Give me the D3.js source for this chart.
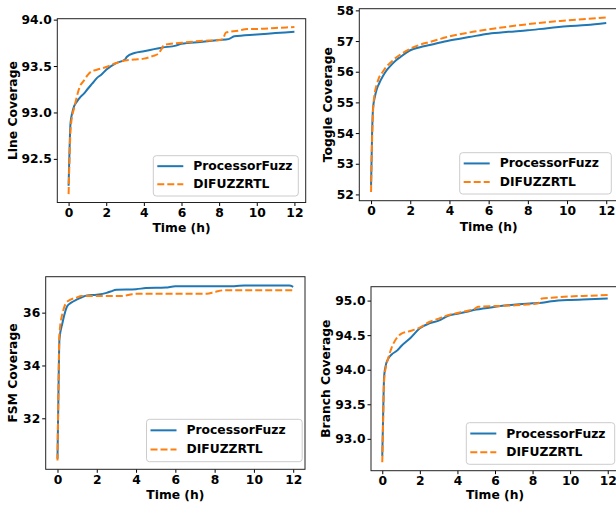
<!DOCTYPE html>
<html><head><meta charset="utf-8">
<script src="https://cdn.jsdelivr.net/npm/d3@7"></script>
<style>body{margin:0;background:#fff}svg{display:block}text{font-family:"DejaVu Sans",sans-serif;font-weight:bold;fill:#000}</style>
</head><body>
<svg id="c" width="616" height="506"></svg>
<script>
const seriesNames = ["ProcessorFuzz", "DIFUZZRTL"];
const xTicks = [0, 2, 4, 6, 8, 10, 12];

// Line coverage
const lineT_PF = [0,0.05,0.1,0.2,0.3,0.45,0.6,0.8,1,1.25,1.5,1.75,2,2.5,3,3.1,3.5,4,5,5.7,6,7,8,8.5,8.8,10,11,12];
const lineV_PF = [92.21,92.6,92.88,93.0,93.07,93.12,93.16,93.2,93.25,93.31,93.37,93.41,93.46,93.53,93.57,93.6,93.64,93.66,93.7,93.72,93.74,93.76,93.78,93.79,93.82,93.84,93.855,93.87];
const lineT_DF = [0,0.05,0.1,0.2,0.3,0.45,0.6,0.8,1,1.2,1.5,2,2.5,3,3.5,4,4.5,4.75,4.9,5.1,6,7,8,8.2,8.35,9,9.5,10,11,12];
const lineV_DF = [92.12,92.5,92.8,92.97,93.05,93.18,93.28,93.34,93.4,93.44,93.46,93.49,93.53,93.56,93.57,93.58,93.61,93.63,93.67,93.73,93.75,93.77,93.78,93.79,93.86,93.88,93.9,93.9,93.91,93.92];
const lineYTicks = [92.5, 93.0, 93.5, 94.0];

// Toggle coverage
const togT = [0,0.05,0.1,0.2,0.3,0.4,0.6,0.8,1,1.25,1.5,2,2.5,3,4,5,6,7,8,9,10,11,12];
const togV_PF = [52.3,53.9,54.8,55.2,55.45,55.6,55.85,56.05,56.2,56.36,56.48,56.7,56.8,56.87,57.02,57.13,57.24,57.3,57.35,57.42,57.48,57.52,57.59];
const togV_DF = [52.08,53.7,54.7,55.35,55.6,55.8,56.0,56.18,56.3,56.45,56.56,56.75,56.88,56.97,57.15,57.28,57.38,57.47,57.55,57.62,57.67,57.72,57.77];
const togYTicks = [52, 53, 54, 55, 56, 57, 58];

// FSM coverage
const fsmT_PF = [0,0.05,0.1,0.25,0.5,0.7,1,1.5,2,2.5,2.7,3,4,4.5,5.5,6,9,9.5,11.8,12];
const fsmV_PF = [30.47,33.0,35.0,35.6,36.25,36.38,36.5,36.65,36.68,36.75,36.8,36.87,36.89,36.93,36.95,37.0,37.0,37.03,37.03,36.98];
const fsmT_DF = [0,0.05,0.1,0.3,0.5,1,1.2,2,3.3,3.8,4,7.6,8,8.5,12];
const fsmV_DF = [30.4,33.2,35.2,36.1,36.42,36.58,36.63,36.63,36.63,36.7,36.72,36.72,36.78,36.85,36.85];
const fsmYTicks = [32, 34, 36];

// Branch coverage
const brT_PF = [0,0.05,0.1,0.2,0.3,0.5,0.8,1,1.5,2,2.5,3,3.5,4,4.5,5,6,7,8,8.5,9,10,11,12];
const brV_PF = [92.75,93.4,93.91,94.08,94.15,94.22,94.28,94.34,94.46,94.6,94.67,94.71,94.78,94.81,94.84,94.87,94.91,94.94,94.96,94.97,94.99,95.01,95.02,95.03];
const brT_DF = [0,0.05,0.1,0.2,0.3,0.5,0.7,1,1.5,2,2.5,3,3.5,4,4.5,4.9,5.1,6,7,8,8.3,8.5,9,10,11,12];
const brV_DF = [92.66,93.3,93.85,94.05,94.15,94.32,94.43,94.52,94.56,94.61,94.69,94.74,94.79,94.82,94.85,94.88,94.91,94.92,94.93,94.95,94.96,95.03,95.04,95.06,95.07,95.08];
const brYTicks = [93.0, 93.5, 94.0, 94.5, 95.0];

const colors = ["#1f77b4", "#ff7f0e"];
const FS = 12.3;

const panels = [
  {label:"Line Coverage", box:{l:57.3,t:18.7,r:305.7,b:202.5}, ylx:13.3, xly:227.7,
   s:[[lineT_PF,lineV_PF],[lineT_DF,lineV_DF]], yt:lineYTicks, fmt:".1f", leg:{x:153.3,y:155.7,w:145,h:40.3}},
  {label:"Toggle Coverage", box:{l:359.3,t:8.7,r:618,b:200.7}, ylx:328, xly:226.7,
   s:[[togT,togV_PF],[togT,togV_DF]], yt:togYTicks, fmt:"d", leg:{x:459.7,y:152.7,w:151.6,h:41.3}},
  {label:"FSM Coverage", box:{l:45.7,t:276.7,r:305,b:469.3}, ylx:13.3, xly:494.5,
   s:[[fsmT_PF,fsmV_PF],[fsmT_DF,fsmV_DF]], yt:fsmYTicks, fmt:"d", leg:{x:146.5,y:419.3,w:155.7,h:42.4}},
  {label:"Branch Coverage", box:{l:371,t:286.7,r:619,b:470.7}, ylx:326.3, xly:495,
   s:[[brT_PF,brV_PF],[brT_DF,brV_DF]], yt:brYTicks, fmt:".1f", leg:{x:466.3,y:422.7,w:148.4,h:41.6}}
];

const svg = d3.select("#c");

panels.forEach((p, pi) => {
  const B = p.box;
  const x = d3.scaleLinear().domain([-0.6, 12.6]).range([B.l, B.r]);
  const allV = p.s.flatMap(s => s[1]);
  const [mn, mx] = d3.extent(allV);
  const pad = (mx - mn) * 0.05;
  const y = d3.scaleLinear().domain([mn - pad, mx + pad]).range([B.b, B.t]);
  const g = svg.append("g");
  const clipId = "clip" + pi;
  g.append("clipPath").attr("id", clipId).append("rect")
    .attr("x", B.l).attr("y", B.t).attr("width", B.r - B.l).attr("height", B.b - B.t);

  const line = d3.line().x(d => x(d[0])).y(d => y(d[1])).curve(d3.curveMonotoneX);
  p.s.forEach((s, i) => {
    const pts = s[0].map((t, k) => [t, s[1][k]]);
    g.append("path").attr("d", line(pts)).attr("fill", "none")
      .attr("stroke", colors[i]).attr("stroke-width", 2)
      .attr("stroke-dasharray", i === 1 ? "7,3" : null)
      .attr("clip-path", `url(#${clipId})`);
  });

  const xa = g.append("g").attr("transform", `translate(0,${B.b})`)
    .call(d3.axisBottom(x).tickValues(xTicks).tickSize(3.5).tickPadding(3).tickFormat(d3.format("d")));
  const ya = g.append("g").attr("transform", `translate(${B.l},0)`)
    .call(d3.axisLeft(y).tickValues(p.yt).tickSize(3.5).tickPadding(2).tickFormat(d3.format(p.fmt)));
  [xa, ya].forEach(a => {
    a.select(".domain").remove();
    a.selectAll("line").attr("stroke", "#000").attr("stroke-width", 1);
    a.selectAll("text").attr("font-size", FS).attr("font-family", "DejaVu Sans").attr("font-weight", "bold").attr("fill", "#000");
  });
  xa.selectAll("text").attr("dy", null).attr("y", 10.5).attr("dominant-baseline", "central");
  ya.selectAll("text").attr("dy", null).attr("dominant-baseline", "central");

  g.append("rect").attr("x", B.l).attr("y", B.t).attr("width", B.r - B.l).attr("height", B.b - B.t)
    .attr("fill", "none").attr("stroke", "#222").attr("stroke-width", 1);

  g.append("text").attr("x", (B.l + B.r) / 2).attr("y", p.xly).attr("text-anchor", "middle")
    .attr("dominant-baseline", "central").attr("font-size", FS).text("Time (h)");
  g.append("text").attr("transform", `translate(${p.ylx},${(B.t + B.b) / 2}) rotate(-90)`)
    .attr("text-anchor", "middle").attr("dominant-baseline", "central").attr("font-size", FS).text(p.label);

  const L = p.leg;
  const lg = g.append("g");
  lg.append("rect").attr("x", L.x).attr("y", L.y).attr("width", L.w).attr("height", L.h).attr("rx", 3)
    .attr("fill", "#fff").attr("fill-opacity", 0.8).attr("stroke", "#ccc").attr("stroke-width", 1);
  seriesNames.forEach((n, i) => {
    const ry = L.y + L.h * (i === 0 ? 0.26 : 0.71);
    lg.append("line").attr("x1", L.x + 4).attr("x2", L.x + 30).attr("y1", ry).attr("y2", ry)
      .attr("stroke", colors[i]).attr("stroke-width", 2).attr("stroke-dasharray", i === 1 ? "7,3" : null);
    lg.append("text").attr("x", L.x + 40).attr("y", ry).attr("dominant-baseline", "central")
      .attr("font-size", FS).text(n);
  });
});
</script>
</body></html>
